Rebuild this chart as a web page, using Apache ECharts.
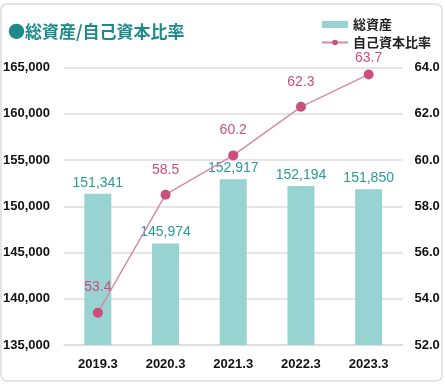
<!DOCTYPE html>
<html><head><meta charset="utf-8">
<script src="https://cdn.jsdelivr.net/npm/echarts@6/dist/echarts.min.js"></script>
<style>html,body{margin:0;padding:0;background:#fff}#c{width:445px;height:387px;position:relative}</style>
</head><body><div id="c"></div>
<script>
const categories = ['2019.3','2020.3','2021.3','2022.3','2023.3'];
const totalAssets = [151341,145974,152917,152194,151850];
const equityRatio = [53.4,58.5,60.2,62.3,63.7];
const leftTicks = {min:135000,max:165000,interval:5000};
const rightTicks = {min:52,max:64,interval:2};

const chart = echarts.init(document.getElementById('c'));
const numFont = '"Liberation Sans Narrow","Liberation Sans",Arial,sans-serif';
const lineData = equityRatio.map((v,i)=> i===equityRatio.length-1 ? {value:v,label:{distance:4}} : v);
chart.setOption({
  animation:false,
  graphic:[{type:'rect',shape:{x:1,y:4,width:441,height:377,r:6},style:{fill:'none',stroke:'#dcdcdc',lineWidth:1.5}}],
  title:{text:'●総資産/自己資本比率',left:3,top:18,textStyle:{color:'#1f8a8c',fontSize:17,fontWeight:'bold',fontFamily:'"Noto Sans CJK JP",sans-serif'}},
  legend:{orient:'vertical',right:9,top:13,itemGap:5,itemWidth:26,itemHeight:7,
    textStyle:{fontSize:13,color:'#222',fontWeight:'bold',fontFamily:'"Noto Sans CJK JP",sans-serif'},
    data:[{name:'総資産',icon:'rect'},{name:'自己資本比率'}]},
  grid:{left:62.5,right:42.5,top:67.5,bottom:42,containLabel:false},
  xAxis:{type:'category',data:categories,axisTick:{show:false},
    axisLine:{lineStyle:{color:'#dcdcdc',width:1.5}},
    axisLabel:{color:'#111',fontSize:13,fontWeight:'bold',margin:13,fontFamily:numFont}},
  yAxis:[
    {type:'value',min:leftTicks.min,max:leftTicks.max,interval:leftTicks.interval,
     axisLine:{show:false},axisTick:{show:false},
     splitLine:{lineStyle:{color:'#dcdcdc',width:1.5}},
     axisLabel:{color:'#111',fontSize:13,fontWeight:'bold',margin:14,fontFamily:numFont,
       formatter:v=>v.toLocaleString('en-US')}},
    {type:'value',min:rightTicks.min,max:rightTicks.max,interval:rightTicks.interval,
     axisLine:{show:false},axisTick:{show:false},splitLine:{show:false},
     axisLabel:{color:'#111',fontSize:13,fontWeight:'bold',margin:12,fontFamily:numFont,
       formatter:v=>v.toFixed(1)}}
  ],
  series:[
    {name:'総資産',type:'bar',data:totalAssets,barWidth:27,itemStyle:{color:'#97d3d0'},
     label:{show:true,position:'top',distance:4,color:'#2a9a9c',fontSize:14,fontFamily:numFont,
       formatter:p=>p.value.toLocaleString('en-US')}},
    {name:'自己資本比率',type:'line',yAxisIndex:1,data:lineData,symbol:'circle',symbolSize:10,
     lineStyle:{color:'#d98aaa',width:1.5},itemStyle:{color:'#c9507e'},
     label:{show:true,position:'top',distance:13,color:'#c9507e',fontSize:14,fontFamily:numFont,
       formatter:p=>Number(p.value).toFixed(1)}}
  ]
});
</script></body></html>
